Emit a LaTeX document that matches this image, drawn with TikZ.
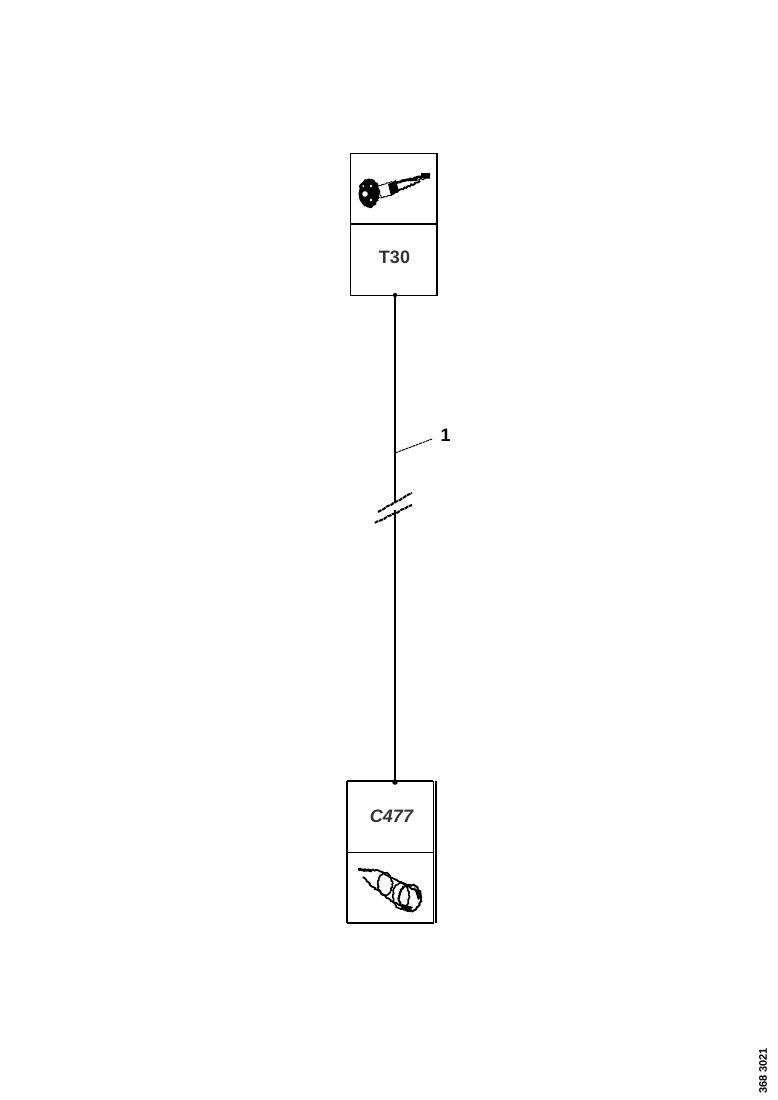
\documentclass[tikz,border=0pt]{standalone}
\usepackage{fontspec}
\setmainfont{Liberation Sans}
\usetikzlibrary{decorations.pathmorphing,calc}
\tikzset{
  x=1pt,y=-1pt,
  cell/.style={draw=black,line width=0.9pt,minimum width=87pt,minimum height=71pt,inner sep=0pt,outer sep=0pt,anchor=north west},
  lbl/.style={inner sep=0pt,font=\fontsize{18}{18}\selectfont\bfseries,text=black!80},
  wire/.style={draw=black,line width=2pt},
  rough/.style={draw=black,line width=0.9pt,decorate,decoration={random steps,segment length=1.5pt,amplitude=0.7pt}},
  breakmark/.style={draw=black,line width=2pt,dash pattern=on 4pt off 0.8pt,decorate,decoration={random steps,segment length=2.5pt,amplitude=0.5pt}},
  leader/.style={draw=black,line width=1pt,dash pattern=on 3pt off 0.7pt},
  ink/.style={fill=black}
}
\pgfmathsetseed{7}
\begin{document}
\begin{tikzpicture}
\useasboundingbox (0,0) rectangle (778,1100);
% top connector block
\node[cell] (topicon) at (350,153) {};
\node[cell] (toplabel) at (350,224) {};
\node[lbl] (t30) at (394.5,257) {T30};
\draw[line width=1.8pt] (topicon.north east) -- (toplabel.south east);
\draw[line width=1.5pt] (toplabel.north west) -- (toplabel.north east);
% bottom connector block
\node[cell,minimum width=86pt] (botlabel) at (347,781) {};
\node[cell,minimum width=86pt] (boticon) at (347,852) {};
\node[lbl,font=\fontsize{18}{18}\selectfont\bfseries\itshape] (c477) at (391.5,816) {C477};
\draw[line width=1.4pt] (botlabel.north west) -- (boticon.south west);
\draw[line width=1.2pt] (botlabel.north west) -- (botlabel.north east);
\draw[line width=1.2pt] (boticon.south west) -- (boticon.south east);
\coordinate (bote) at ($(botlabel.north east)+(3,0)$);
\coordinate (bote2) at ($(boticon.south east)+(3,0)$);
\draw[line width=1.1pt] (bote) -- (bote2);
% wire
\coordinate (wiretop) at (395,295);
\coordinate (wirebot) at (395,782);
\coordinate (gapa) at (395,503);
\coordinate (gapb) at (395,510);
\draw[wire] (wiretop) -- (gapa);
\draw[wire] (gapb) -- (wirebot);
\fill (wiretop) circle (2.2pt);
\fill (wirebot) circle (2.8pt);
% break marks
\coordinate (ba1) at (378,512);
\coordinate (ba2) at (412,493);
\coordinate (bb1) at (375,523);
\coordinate (bb2) at (412,505);
\draw[breakmark] (ba1) -- (ba2);
\draw[breakmark] (bb1) -- (bb2);
% leader
\coordinate (la) at (395,453);
\coordinate (lb) at (432,439);
\draw[leader] (la) -- (lb);
\node[inner sep=0pt,font=\fontsize{18}{18}\selectfont\bfseries] (one) at (445.5,435) {1};
% top icon
\begin{scope}
\draw[ink,rough] (369,193) ellipse (10 and 14);
\fill[white] (365,194) circle (2.8);
\fill[white] (371,186) circle (1.3);
\fill[white] (371,200) circle (1.3);
\fill[white] (363,186) circle (1);
\draw[rough,fill=white] (378,186) -- (395,181) -- (393,194) -- (381,198) -- cycle;
\fill (388,184) -- (396,181) -- (399,191) -- (391,196) -- cycle;
\draw[rough,line width=2.6pt] (394,183) -- (430,175);
\draw[rough,line width=1.8pt] (396,192) -- (420,181);
\draw[rough,line width=1.2pt] (410,181) -- (430,178);
\fill[black] (421,173) rectangle (430,178);
\end{scope}
% bottom icon
\begin{scope}
\draw[rough,line width=1.8pt] (359,870) -- (377,870) -- (400,882) -- (420,893);
\draw[rough,line width=1.8pt] (363,877) -- (373,887) -- (393,902) -- (410,910);
\draw[rough,line width=2.6pt] (358,869) -- (372,871);
\draw[rough,line width=1.6pt] (385,884) ellipse (7 and 11);
\draw[rough,line width=1.6pt] (401,896) ellipse (8 and 13);
\draw[rough,line width=2pt] (410,898) ellipse (11 and 13);
\fill (402,904) -- (413,907) -- (408,912) -- (401,909) -- cycle;
\fill (414,887) -- (422,896) -- (418,900) -- cycle;
\end{scope}
% drawing number
\node[inner sep=0pt,rotate=90,font=\fontsize{11}{11}\selectfont\bfseries] (num) at (763,1071) {368 3021};
\end{tikzpicture}
\end{document}
